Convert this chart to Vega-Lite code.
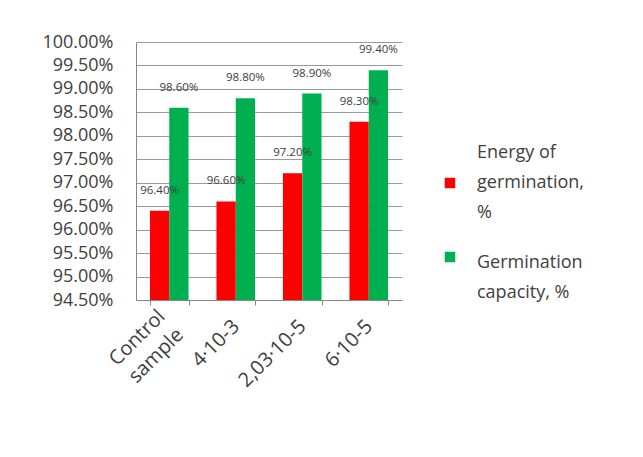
{
  "$schema": "https://vega.github.io/schema/vega-lite/v6.json",
  "width": 266,
  "height": 258,
  "autosize": {"type": "none"},
  "padding": {"left": 136, "top": 42, "right": 241, "bottom": 157},
  "background": "white",
  "data": {"values": [
    {"cat": "Control sample", "series": "Energy of germination, %", "v": 0.964},
    {"cat": "Control sample", "series": "Germination capacity, %", "v": 0.986},
    {"cat": "4·10-3", "series": "Energy of germination, %", "v": 0.966},
    {"cat": "4·10-3", "series": "Germination capacity, %", "v": 0.988},
    {"cat": "2,03·10-5", "series": "Energy of germination, %", "v": 0.972},
    {"cat": "2,03·10-5", "series": "Germination capacity, %", "v": 0.989},
    {"cat": "6·10-5", "series": "Energy of germination, %", "v": 0.983},
    {"cat": "6·10-5", "series": "Germination capacity, %", "v": 0.994}
  ]},
  "encoding": {
    "x": {
      "field": "cat", "type": "nominal", "sort": null,
      "scale": {"paddingInner": 0.42, "paddingOuter": 0.21},
      "axis": {
        "title": null, "labelAngle": -45, "labelFontSize": 20, "labelFont": "Open Sans",
        "labelColor": "#404040", "labelAlign": "right", "labelBaseline": "middle",
        "labelExpr": "datum.value == 'Control sample' ? ['Control', 'sample'] : datum.value",
        "domainColor": "#868686", "tickColor": "#868686", "tickSize": 5, "tickBand": "extent",
        "labelPadding": {"condition": {"test": "datum.value == 'Control sample'", "value": 8}, "value": 18},
        "labelOffset": {"condition": {"test": "datum.value == 'Control sample'", "value": -8}, "value": 0},
        "labelLineHeight": 26
      }
    },
    "xOffset": {"field": "series", "type": "nominal", "scale": {"paddingInner": 0, "paddingOuter": 0}},
    "y": {
      "field": "v", "type": "quantitative",
      "scale": {"domain": [0.945, 1.0], "zero": false, "clamp": true},
      "axis": {
        "title": null, "format": ".2%", "values": [0.945, 0.95, 0.955, 0.96, 0.965, 0.97, 0.975, 0.98, 0.985, 0.99, 0.995, 1.0],
        "labelFontSize": 18, "labelFont": "Open Sans", "labelColor": "#404040", "labelPadding": 23,
        "ticks": false, "domainColor": "#868686", "gridColor": "#9a9a9a", "gridWidth": 1
      }
    }
  },
  "layer": [
    {
      "mark": {"type": "bar"},
      "encoding": {
        "color": {
          "field": "series", "type": "nominal",
          "scale": {"range": ["#FF0000", "#00B050"]},
          "legend": {
            "title": null, "orient": "none", "legendX": 305, "legendY": 132,
            "symbolType": "square", "symbolSize": 110, "symbolStrokeWidth": 0,
            "labelFontSize": 18, "labelFont": "Open Sans", "labelColor": "#404040",
            "labelLimit": 300, "labelOffset": 18, "rowPadding": 26,
            "labelExpr": "datum.label == 'Energy of germination, %' ? ['Energy of', 'germination,', '%'] : ['Germination', 'capacity, %']",
            "encode": {"labels": {"update": {
              "lineHeight": {"value": 30},
              "dy": {"signal": "datum.value == 'Energy of germination, %' ? -30 : 6"}
            }}}
          }
        }
      }
    },
    {
      "mark": {"type": "text", "dy": -20, "fontSize": 11.5, "font": "Open Sans", "color": "#404040"},
      "encoding": {
        "text": {"field": "v", "type": "quantitative", "format": ".2%"}
      }
    }
  ],
  "config": {"view": {"stroke": null}, "axis": {"grid": true}, "axisX": {"grid": false}}
}
